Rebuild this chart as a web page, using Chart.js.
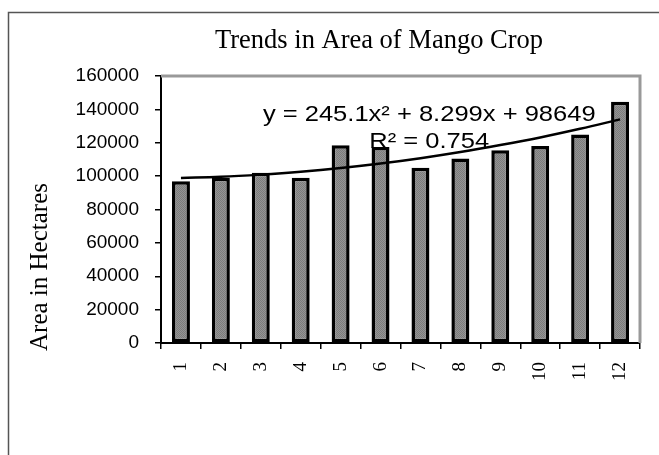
<!DOCTYPE html>
<html>
<head>
<meta charset="utf-8">
<script src="https://cdn.jsdelivr.net/npm/chart.js@4/dist/chart.umd.min.js"></script>
<style>
  html, body { margin: 0; padding: 0; background: #fff; overflow: hidden; }
  canvas { display: block; }
</style>
</head>
<body>
<canvas id="myChart" width="659" height="455"></canvas>
<script>
// categories (years 1..12)
const categories = ['1', '2', '3', '4', '5', '6', '7', '8', '9', '10', '11', '12'];
// area in hectares
const areaValues = [97000, 99000, 102000, 99000, 118500, 117500, 105000, 110500, 115500, 118000, 125000, 144500];
// polynomial trendline as drawn
const trendValues = [98900, 99600, 100900, 102600, 104800, 107500, 110700, 114400, 118600, 123200, 128400, 134000];
// y axis ticks
const yTicks = [0, 20000, 40000, 60000, 80000, 100000, 120000, 140000, 160000];

const chartTitle = 'Trends in Area of Mango Crop';
const yTitle = 'Area in Hectares';
const eqLine1 = 'y = 245.1x\u00B2 + 8.299x + 98649';
const eqLine2 = 'R\u00B2 = 0.754';

// dotted grey fill like the original bars
function makePattern() {
  const p = document.createElement('canvas');
  p.width = 2; p.height = 2;
  const c = p.getContext('2d');
  c.fillStyle = '#949494';
  c.fillRect(0, 0, 2, 2);
  c.fillStyle = '#7c7c7c';
  c.fillRect(0, 0, 1, 1);
  c.fillRect(1, 1, 1, 1);
  return c.createPattern(p, 'repeat');
}

// frame, title, axis title, plot border and equation text
const decorations = {
  id: 'decorations',
  beforeDraw(chart) {
    const ctx = chart.ctx;
    ctx.save();
    ctx.fillStyle = '#fff';
    ctx.fillRect(0, 0, chart.width, chart.height);
    ctx.strokeStyle = '#555';
    ctx.lineWidth = 1.5;
    ctx.strokeRect(8.5, 12.5, 800, 600);
    ctx.restore();
  },
  beforeDatasetsDraw(chart) {
    const ctx = chart.ctx;
    const a = chart.chartArea;
    ctx.save();
    ctx.strokeStyle = '#999';
    ctx.lineWidth = 3;
    ctx.beginPath();
    ctx.moveTo(a.left, a.top);
    ctx.lineTo(a.right, a.top);
    ctx.lineTo(a.right, a.bottom);
    ctx.stroke();
    ctx.restore();
  },
  afterDraw(chart) {
    const ctx = chart.ctx;
    const a = chart.chartArea;
    const y = chart.scales.y;
    ctx.save();
    ctx.fillStyle = '#000';
    ctx.font = '26.5px "Liberation Serif", "Times New Roman", serif';
    ctx.textAlign = 'center';
    ctx.textBaseline = 'alphabetic';
    ctx.fillText(chartTitle, 379, 48);

    ctx.font = '25px "Liberation Serif", "Times New Roman", serif';
    ctx.save();
    ctx.translate(47, 267);
    ctx.rotate(-Math.PI / 2);
    ctx.fillText(yTitle, 0, 0);
    ctx.restore();

    // trendline label, slightly stretched as in the source
    ctx.font = '22px "Liberation Sans", Arial, sans-serif';
    const cx = a.left + (a.right - a.left) * 0.56;
    const stretch = 1.16;
    [[eqLine1, 133000], [eqLine2, 117000]].forEach(function (item) {
      ctx.save();
      ctx.translate(cx, y.getPixelForValue(item[1]));
      ctx.scale(stretch, 1);
      ctx.fillText(item[0], 0, 0);
      ctx.restore();
    });
    ctx.restore();
  }
};

const ctx = document.getElementById('myChart').getContext('2d');
const chart = new Chart(ctx, {
  type: 'bar',
  data: {
    labels: categories,
    datasets: [{
      type: 'line',
      label: 'Trend',
      data: trendValues,
      borderColor: '#000',
      borderWidth: 2.5,
      pointRadius: 0,
      tension: 0.4,
      fill: false,
      order: 0
    }, {
      label: 'Area',
      data: areaValues,
      backgroundColor: makePattern(),
      borderColor: '#000',
      borderWidth: 3.5,
      borderSkipped: false,
      categoryPercentage: 1,
      barPercentage: 0.45,
      order: 1
    }]
  },
  options: {
    responsive: false,
    animation: false,
    layout: { padding: { top: 76, right: 19, left: 0, bottom: 0 } },
    plugins: {
      legend: { display: false },
      tooltip: { enabled: false },
      title: { display: false }
    },
    scales: {
      x: {
        grid: { drawOnChartArea: false, color: '#000', lineWidth: 1.5, tickLength: 6, offset: true },
        border: { color: '#000', width: 2 },
        ticks: {
          color: '#000',
          minRotation: 90,
          maxRotation: 90,
          padding: 13,
          font: { family: '"Liberation Serif", "Times New Roman", serif', size: 19 }
        },
        afterFit(scale) { scale.height = 112; }
      },
      y: {
        min: 0,
        max: 160000,
        afterBuildTicks(scale) { scale.ticks = yTicks.map(v => ({ value: v })); },
        grid: { drawOnChartArea: false, color: '#000', lineWidth: 1.5, tickLength: 6 },
        border: { color: '#000', width: 2 },
        ticks: {
          color: '#000',
          padding: 16,
          callback: v => String(v),
          font: { family: '"Liberation Sans", Arial, sans-serif', size: 19 }
        },
        afterFit(scale) { scale.width = 161; }
      }
    }
  },
  plugins: [decorations]
});
</script>
</body>
</html>
